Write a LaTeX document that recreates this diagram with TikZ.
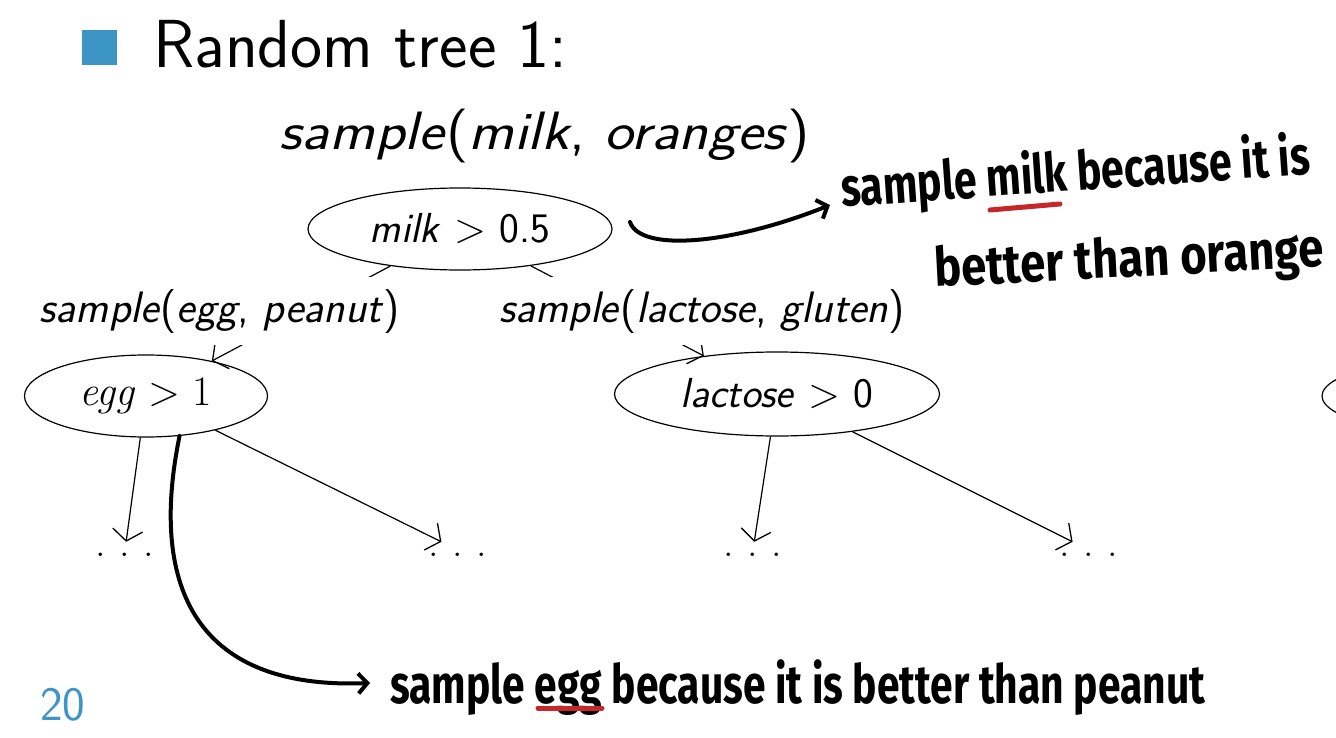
\documentclass[tikz,border=0pt]{standalone}
\usepackage{fontspec}
\usetikzlibrary{shapes.geometric,arrows.meta}
\newfontfamily\hand{Fira Sans}
\definecolor{beamblue}{RGB}{61,149,198}
\definecolor{inkred}{RGB}{196,40,40}
\newcommand{\mydots}{.\hspace{0.32em}.\hspace{0.32em}.}
\begin{document}
\begin{tikzpicture}[x=1pt,y=-1pt,
  treenode/.style={draw, ellipse, line width=1.2pt, inner sep=0pt},
  nodefont/.style={font=\fontsize{42}{50}\selectfont},
  edge/.style={-{Straight Barb[length=11pt,width=30pt,line width=1.3pt]}, line width=1.2pt},
  dots/.style={inner sep=0pt, text height=14pt, text depth=2pt, font=\fontsize{42}{50}\selectfont},
  lab/.style={fill=white, inner xsep=4pt, inner ysep=12pt, font=\sffamily\fontsize{44}{50}\selectfont},
  ink/.style={line width=4pt, -{Straight Barb[length=9pt,width=20pt]}, line cap=round},
  handtxt/.style={font=\hand\bfseries\fontsize{54}{60}\selectfont, inner sep=0pt},
  redline/.style={draw=inkred, line width=5pt, line cap=round}]
\useasboundingbox (0,0) rectangle (1336,738);
\clip (0,0) rectangle (1336,738);
\fill[white] (0,0) rectangle (1336,738);
% title
\node[fill=beamblue, minimum size=35pt, inner sep=0pt] (bul) at (99.5,47.5) {};
\node[anchor=base west, inner sep=0pt, font=\sffamily\fontsize{68}{76}\selectfont] (title) at (153,68) {Random tree 1:};
\node[anchor=base, inner sep=0pt, font=\sffamily\fontsize{54}{60}\selectfont] (rootlab) at (545,150) {\resizebox{530pt}{\height}{\textit{sample}(\textit{milk}, \textit{oranges})}};
% tree nodes
\node[treenode, nodefont, minimum width=304pt, minimum height=82pt] (milk) at (460,229) {\sffamily\textit{milk} > 0.5};
\node[treenode, nodefont, minimum width=243pt, minimum height=82pt] (egg) at (146,396) {\textit{egg} > 1};
\node[treenode, nodefont, minimum width=325pt, minimum height=84pt] (lac) at (777,394) {\sffamily\textit{lactose} > 0};
\node[treenode, minimum width=356pt, minimum height=84pt] (far) at (1500,396) {};
% dots
\node[dots] (d1) at (125,550) {\mydots};
\node[dots] (d2) at (458,550) {\mydots};
\node[dots] (d3) at (753,550) {\mydots};
\node[dots] (d4) at (1089,550) {\mydots};
% edges
\draw[edge] (milk) -- (egg);
\draw[edge] (milk) -- (lac);
\draw[edge] (egg) -- (d1);
\draw[edge] (egg) -- (d2);
\draw[edge] (lac) -- (d3);
\draw[edge] (lac) -- (d4);
% edge labels
\node[lab, anchor=base] (lab1) at (220,322) {\resizebox{360pt}{\height}{\textit{sample}(\textit{egg}, \textit{peanut})}};
\node[lab, anchor=base] (lab2) at (702,322) {\resizebox{405pt}{\height}{\textit{sample}(\textit{lactose}, \textit{gluten})}};
% annotations
\node[handtxt, anchor=base west, rotate=4] (ann1) at (842,207) {\resizebox{470pt}{\height}{sample milk because it is}};
\node[handtxt, anchor=base west, rotate=3] (ann2) at (935,287) {\resizebox{390pt}{\height}{better than orange}};
\node[handtxt, anchor=base west] (ann3) at (390,703) {\resizebox{815pt}{\height}{sample egg because it is better than peanut}};
\draw[redline] (990,210) -- (1060,204);
\draw[redline] (538,708) -- (602,708);
\coordinate (tipA) at (830,205);
\coordinate (tipB) at (370,683);
\draw[ink] (630,222) .. controls (640,252) and (730,245) .. (tipA);
\draw[ink] (egg.-50) .. controls (150,580) and (190,690) .. (tipB);
% page number
\node[anchor=base west, inner sep=0pt, text=beamblue, font=\sffamily\fontsize{48}{56}\selectfont] (pg) at (40,720) {20};
\end{tikzpicture}
\end{document}
